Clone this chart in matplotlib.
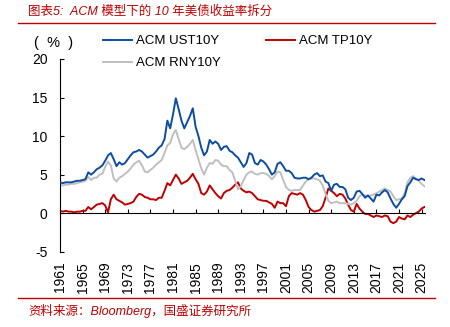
import numpy as np
import matplotlib.pyplot as plt
from matplotlib.lines import Line2D

# --- Dados (passo de meio ano) ---
anos = np.arange(1961.0, 2025.51, 0.5)

ust10y = [4.0, 3.9, 4.0, 4.0, 4.0, 4.1, 4.2, 4.2, 4.3, 4.4,
          5.3, 5.0, 5.3, 5.7, 5.9, 6.2, 6.8, 7.5, 7.8, 7.0,
          6.1, 6.6, 6.3, 6.5, 7.0, 7.5, 7.9, 8.0, 8.2, 8.0,
          7.6, 7.2, 7.4, 7.6, 8.0, 8.5, 8.8, 9.6, 12.0, 11.0,
          12.8, 14.9, 13.5, 12.0, 11.0, 11.8, 12.6, 13.6, 11.2, 10.0,
          8.5, 7.5, 8.0, 9.5, 9.0, 9.3, 9.0, 8.2, 8.6, 8.7,
          8.1, 7.9, 7.5, 7.2, 6.6, 6.0, 6.5, 7.8, 7.6, 6.5,
          6.3, 6.9, 6.7, 6.3, 5.7, 5.0, 5.3, 6.4, 6.6, 6.1,
          5.5, 5.5, 5.2, 4.6, 4.5, 4.5, 4.6, 4.6, 4.4, 4.6,
          5.0, 5.2, 4.8, 4.9, 4.1, 3.9, 2.9, 3.7, 3.8, 3.4,
          3.4, 3.1, 2.0, 1.7, 2.0, 2.8, 2.9, 2.5, 2.0, 2.3,
          1.9, 1.5, 2.4, 2.3, 2.7, 3.0, 2.7, 1.9, 1.2, 0.7,
          1.2, 1.8, 2.2, 3.5, 4.0, 4.6, 4.4, 4.3, 4.5, 4.3]

rny10y = [3.7, 3.6, 3.7, 3.7, 3.8, 3.8, 3.9, 4.0, 4.1, 4.2,
          4.7, 4.3, 4.6, 4.6, 5.0, 5.1, 6.0, 6.7, 6.2, 4.5,
          4.1, 4.6, 4.8, 5.1, 5.4, 5.8, 6.3, 6.6, 6.8, 6.2,
          5.4, 5.3, 5.6, 5.9, 6.3, 6.6, 6.9, 7.8, 8.8, 9.1,
          10.2, 10.8, 9.6, 8.5, 8.3, 8.6, 9.0, 9.5, 8.2, 7.0,
          5.8, 5.0, 5.9, 6.5, 6.4, 6.9, 6.8, 6.3, 6.1, 6.1,
          5.6, 5.3, 4.2, 3.1, 3.5, 4.3, 5.0, 5.3, 5.4, 5.1,
          5.0, 5.2, 5.2, 5.1, 4.8, 4.4, 4.8, 5.4, 5.3, 4.3,
          3.4, 3.0, 2.9, 3.0, 3.0, 3.0, 3.6, 4.1, 4.4, 4.5,
          4.5, 4.4, 4.2, 3.6, 2.5, 1.6, 1.3, 1.4, 1.5, 1.3,
          1.3, 1.3, 1.2, 1.1, 1.3, 1.6, 2.2, 2.4, 2.3, 2.2,
          2.3, 2.4, 2.6, 2.8, 3.0, 3.2, 3.0, 2.8, 2.2, 1.7,
          1.8, 1.9, 2.6, 4.0, 4.6, 4.8, 4.5, 4.2, 3.8, 3.5]

tp10y = [0.3, 0.2, 0.3, 0.2, 0.2, 0.1, 0.2, 0.2, 0.3, 0.3,
         0.8, 0.5, 0.8, 1.1, 1.2, 1.3, 1.0, 0.1, 1.8, 2.4,
         1.8, 1.6, 1.4, 1.1, 1.2, 1.3, 1.5, 2.1, 2.5, 2.4,
         2.1, 2.0, 1.8, 1.8, 1.7, 2.0, 2.0, 2.9, 3.9, 3.6,
         4.3, 5.0, 4.5, 3.8, 4.0, 4.2, 4.6, 5.1, 4.4, 3.8,
         2.6, 2.4, 2.8, 3.6, 3.1, 2.6, 2.2, 1.9, 2.6, 2.9,
         3.0, 3.3, 3.7, 4.0, 3.2, 2.9, 2.7, 2.8, 2.6, 2.2,
         1.8, 1.7, 1.6, 1.6, 1.4, 1.2, 0.7, 1.5, 1.3, 1.3,
         0.9, 2.2, 2.6, 2.5, 2.4, 2.6, 2.4, 1.7, 0.8, 0.4,
         0.2, 0.3, 0.4, 0.9, 2.0, 3.2, 2.9, 2.6, 2.2, 2.5,
         2.4, 1.9, 1.1, 0.4, 0.2, 1.2, 0.6, 0.2, -0.1, -0.1,
         -0.3, -0.5, -0.3, -0.4, -0.5, -0.3, -0.4, -1.1, -1.3, -1.1,
         -0.5, -0.7, -0.8, -0.3, -0.5, -0.2, 0.0, 0.2, 0.6, 0.8]

anos_ticks = list(range(1961, 2026, 4))

cor_azul = '#0D4DA1'
cor_vermelho = '#C00000'
cor_cinza = '#BFBFBF'

plt.rcParams['font.family'] = ['Liberation Sans', 'Noto Sans CJK SC']
plt.rcParams['axes.unicode_minus'] = False

fig = plt.figure(figsize=(4.5, 3.27), dpi=100)
ax = fig.add_axes([60 / 450, 1 - 251.7 / 327, 365 / 450, 192.7 / 327])

l_ust, = ax.plot(anos, ust10y, color=cor_azul, lw=1.4, label='ACM UST10Y', zorder=3)
l_tp, = ax.plot(anos, tp10y, color=cor_vermelho, lw=1.4, label='ACM TP10Y', zorder=2)
l_rny, = ax.plot(anos, rny10y, color=cor_cinza, lw=1.4, label='ACM RNY10Y', zorder=2)

ax.set_xlim(1961, 2025.6)
ax.set_ylim(-5, 20)
ax.set_yticks([-5, 0, 5, 10, 15, 20])
ax.set_xticks(anos_ticks)
ax.set_xticklabels([str(a) for a in anos_ticks])

# eixo x no zero, rótulos em baixo
ax.spines['bottom'].set_position(('data', 0))
ax.spines['top'].set_visible(False)
ax.spines['right'].set_visible(False)
ax.spines['left'].set_linewidth(0.8)
ax.spines['bottom'].set_linewidth(0.8)
ax.tick_params(axis='x', direction='in', length=3, width=0.8, pad=35,
               labelsize=10, labelrotation=90)
ax.tick_params(axis='y', direction='in', length=3, width=0.8, pad=9, labelsize=10)
for lbl in ax.get_xticklabels():
    lbl.set_verticalalignment('top')

# legenda
fig.legend(handles=[l_ust, l_rny, l_tp], loc='upper left',
           bbox_to_anchor=(103 / 450, 1 - 35 / 327), ncol=2, frameon=False,
           fontsize=9.5, handlelength=2.2, handletextpad=0.3,
           columnspacing=3.4, labelspacing=0.75, borderpad=0, borderaxespad=0)
fig.text(34 / 450, 1 - 43 / 327, '(  %  )', fontsize=10.5, va='center', ha='left')

# título e fonte
fig.text(28 / 450, 1 - 12 / 327, '图表5:  ACM 模型下的 10 年美债收益率拆分',
         fontsize=9, style='italic', color=cor_vermelho, va='center', ha='left')
fig.text(28 / 450, 1 - 311 / 327, '资料来源：Bloomberg，国盛证券研究所',
         fontsize=9, style='italic', color=cor_vermelho, va='center', ha='left')
fig.add_artist(Line2D([18 / 450, 435 / 450], [1 - 23 / 327, 1 - 23 / 327],
                      transform=fig.transFigure, color=cor_vermelho, lw=1.0))
fig.add_artist(Line2D([18 / 450, 435 / 450], [1 - 298 / 327, 1 - 298 / 327],
                      transform=fig.transFigure, color=cor_vermelho, lw=1.0))

plt.savefig('out.png', dpi=100)
